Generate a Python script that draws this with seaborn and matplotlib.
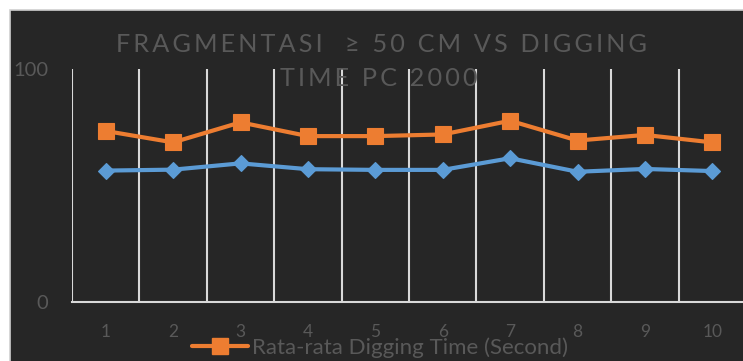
import matplotlib
matplotlib.use("Agg")
import matplotlib.pyplot as plt
import seaborn as sns
import pandas as pd
from matplotlib.patches import Rectangle
from matplotlib.lines import Line2D

# Data: ten trials of PC 2000 loading
trial = [1, 2, 3, 4, 5, 6, 7, 8, 9, 10]
fragmentasi = [56.4, 56.8, 59.5, 57.0, 56.7, 56.7, 61.7, 55.9, 57.1, 56.2]
digging_time = [73.4, 68.5, 77.1, 71.2, 71.2, 71.9, 77.8, 69.3, 71.7, 68.5]
title_lines = ["FRAGMENTASI  \u2265 50 CM VS DIGGING", "TIME PC 2000"]
digging_label = "Rata-rata Digging Time (Second)"
frag_label = "Fragmentasi \u2265 50 cm (%)"
y_ticks = [0, 100]

BG = "#262626"
GRID = "#d9d9d9"
TXT = "#595959"
ORANGE = "#ED7D31"
BLUE = "#5B9BD5"

sns.set_theme(style="dark")
plt.rcParams["font.family"] = ["Lato", "DejaVu Sans"]

W, H = 743, 361
fig = plt.figure(figsize=(W / 100, H / 100), dpi=100, facecolor="white")
fig.patches.append(Rectangle((10 / W, -0.1), 1.2, (H - 10) / H + 0.1,
                             transform=fig.transFigure, facecolor=BG,
                             edgecolor="#d0d0d0", lw=1.2, zorder=-5))

ax = fig.add_axes([72 / W, 59 / H, 674 / W, 233 / H])
ax.set_facecolor("none")
ax.set_zorder(2)

df = pd.DataFrame({
    "trial": trial * 2,
    "value": digging_time + fragmentasi,
    "series": [digging_label] * len(trial) + [frag_label] * len(trial),
})

sns.lineplot(data=df, x="trial", y="value", hue="series", style="series",
             palette={digging_label: ORANGE, frag_label: BLUE},
             markers={digging_label: "s", frag_label: "D"},
             dashes=False, linewidth=3.0, markersize=12,
             markeredgewidth=0.8, ax=ax, legend=False)
for line in ax.lines:
    c = line.get_color()
    line.set_markeredgecolor(c)
    if line.get_marker() == "D":
        line.set_markersize(8.5)

ax.set_xlim(0.5, 10.5)
ax.set_ylim(0, 100)
ax.set_xticks(trial)
ax.set_xticklabels([str(t) for t in trial])
ax.set_xticks([t - 0.5 for t in trial] + [10.5], minor=True)
ax.set_yticks(y_ticks)
ax.grid(False)
ax.grid(True, which="minor", axis="x", color=GRID, lw=1.5)
ax.set_axisbelow(True)
ax.tick_params(axis="x", which="both", length=0, pad=16, labelsize=12.5, labelcolor=TXT)
ax.tick_params(axis="y", length=0, pad=17, labelsize=14.5, labelcolor=TXT)
for s in ["top", "right", "left"]:
    ax.spines[s].set_visible(False)
ax.spines["bottom"].set_color(GRID)
ax.spines["bottom"].set_linewidth(1.5)
ax.set_xlabel("")
ax.set_ylabel("")


def spaced(s):
    return "\u2009".join(s)


fig.text(382 / W, 1 - 44 / H, spaced(title_lines[0]), ha="center", va="center",
         fontsize=18.2, color=TXT, zorder=1)
fig.text(379 / W, 1 - 79 / H, spaced(title_lines[1]), ha="center", va="center",
         fontsize=18.2, color=TXT, zorder=3)

handles = [
    Line2D([], [], color=ORANGE, lw=3.0, marker="s", markersize=12,
           markeredgecolor=ORANGE),
    Line2D([], [], color=BLUE, lw=3.0, marker="D", markersize=8.5,
           markeredgecolor=BLUE),
]
leg = fig.legend(handles, [digging_label, frag_label], loc="upper left",
                 bbox_to_anchor=(192 / W, 1 - 337 / H), frameon=False,
                 fontsize=16, labelcolor=TXT, handlelength=2.5,
                 handletextpad=0.2, borderpad=0, borderaxespad=0,
                 labelspacing=0.6)
leg.set_zorder(4)

fig.savefig("out.png", dpi=100, facecolor="white")
